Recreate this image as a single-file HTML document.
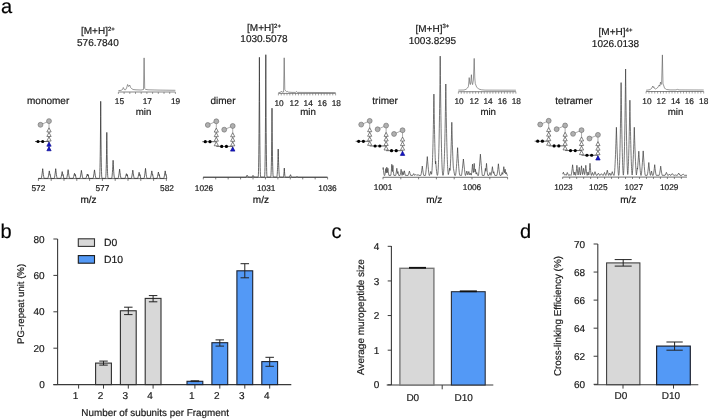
<!DOCTYPE html>
<html><head><meta charset="utf-8"><style>
html,body{margin:0;padding:0;background:#fff;width:709px;height:419px;overflow:hidden}
svg{display:block;filter:blur(0.3px)}
text{stroke:#1a1a1a;stroke-width:0.2px;text-rendering:geometricPrecision}
</style></head><body>
<svg width="709" height="419" viewBox="0 0 709 419" font-family='"Liberation Sans", sans-serif'>
<rect width="709" height="419" fill="#fff"/>
<text x="1.00" y="12.90" font-size="20" text-anchor="start" fill="#000" >a</text>
<text x="0.40" y="237.80" font-size="20" text-anchor="start" fill="#000" >b</text>
<text x="331.40" y="238.20" font-size="20" text-anchor="start" fill="#000" >c</text>
<text x="520.00" y="237.80" font-size="20" text-anchor="start" fill="#000" >d</text>
<text x="97.90" y="34.10" font-size="10" text-anchor="middle" fill="#1a1a1a">[M+H]<tspan font-size="6" dy="-3.4">2+</tspan></text>
<text x="97.90" y="45.80" font-size="10" text-anchor="middle" fill="#1a1a1a" >576.7840</text>
<text x="27.00" y="104.00" font-size="10" text-anchor="start" fill="#1a1a1a" >monomer</text>
<line x1="118.40" y1="92.00" x2="175.40" y2="92.00" stroke="#555" stroke-width="0.7"/>
<line x1="118.40" y1="92.00" x2="118.40" y2="94.00" stroke="#555" stroke-width="0.55"/>
<line x1="124.10" y1="92.00" x2="124.10" y2="94.00" stroke="#555" stroke-width="0.55"/>
<line x1="129.80" y1="92.00" x2="129.80" y2="94.00" stroke="#555" stroke-width="0.55"/>
<line x1="135.50" y1="92.00" x2="135.50" y2="94.00" stroke="#555" stroke-width="0.55"/>
<line x1="141.20" y1="92.00" x2="141.20" y2="94.00" stroke="#555" stroke-width="0.55"/>
<line x1="146.90" y1="92.00" x2="146.90" y2="94.00" stroke="#555" stroke-width="0.55"/>
<line x1="152.60" y1="92.00" x2="152.60" y2="94.00" stroke="#555" stroke-width="0.55"/>
<line x1="158.30" y1="92.00" x2="158.30" y2="94.00" stroke="#555" stroke-width="0.55"/>
<line x1="164.00" y1="92.00" x2="164.00" y2="94.00" stroke="#555" stroke-width="0.55"/>
<line x1="169.70" y1="92.00" x2="169.70" y2="94.00" stroke="#555" stroke-width="0.55"/>
<line x1="175.40" y1="92.00" x2="175.40" y2="94.00" stroke="#555" stroke-width="0.55"/>
<polyline points="118.40,90.60 121.00,90.40 122.50,89.50 123.30,87.50 124.30,89.60 125.50,89.80 126.60,88.00 127.60,84.50 128.60,86.50 129.70,85.00 130.60,87.50 131.50,88.50 133.00,89.50 136.00,89.80 141.00,90.00 143.50,89.50 144.10,57.90 144.70,88.50 145.50,89.30 148.00,89.80 160.00,90.10 175.40,90.30" fill="none" stroke="#555" stroke-width="0.6" stroke-linejoin="round"/>
<text x="119.40" y="103.50" font-size="8.3" text-anchor="middle" fill="#1a1a1a" >15</text>
<text x="147.30" y="103.50" font-size="8.3" text-anchor="middle" fill="#1a1a1a" >17</text>
<text x="175.60" y="103.50" font-size="8.3" text-anchor="middle" fill="#1a1a1a" >19</text>
<text x="143.50" y="114.50" font-size="9.7" text-anchor="middle" fill="#1a1a1a" >min</text>
<line x1="38.20" y1="178.60" x2="167.00" y2="178.60" stroke="#4a4a4a" stroke-width="0.8"/>
<line x1="38.40" y1="178.60" x2="38.40" y2="180.90" stroke="#4a4a4a" stroke-width="0.7"/>
<line x1="51.20" y1="178.60" x2="51.20" y2="180.90" stroke="#4a4a4a" stroke-width="0.7"/>
<line x1="64.00" y1="178.60" x2="64.00" y2="180.90" stroke="#4a4a4a" stroke-width="0.7"/>
<line x1="76.80" y1="178.60" x2="76.80" y2="180.90" stroke="#4a4a4a" stroke-width="0.7"/>
<line x1="89.60" y1="178.60" x2="89.60" y2="180.90" stroke="#4a4a4a" stroke-width="0.7"/>
<line x1="102.40" y1="178.60" x2="102.40" y2="180.90" stroke="#4a4a4a" stroke-width="0.7"/>
<line x1="115.20" y1="178.60" x2="115.20" y2="180.90" stroke="#4a4a4a" stroke-width="0.7"/>
<line x1="128.00" y1="178.60" x2="128.00" y2="180.90" stroke="#4a4a4a" stroke-width="0.7"/>
<line x1="140.80" y1="178.60" x2="140.80" y2="180.90" stroke="#4a4a4a" stroke-width="0.7"/>
<line x1="153.60" y1="178.60" x2="153.60" y2="180.90" stroke="#4a4a4a" stroke-width="0.7"/>
<line x1="166.40" y1="178.60" x2="166.40" y2="180.90" stroke="#4a4a4a" stroke-width="0.7"/>
<polyline points="38.30,178.40 41.20,178.40 41.30,178.31 41.50,177.55 41.80,175.87 42.10,173.78 42.50,170.51 42.70,168.70 43.10,172.20 43.40,174.52 43.70,176.49 43.90,177.55 44.10,178.31 47.80,178.40 47.90,178.31 48.20,177.22 48.60,175.22 49.10,172.22 49.30,170.90 49.80,174.07 50.00,175.22 50.10,175.14 50.20,174.60 50.90,178.40 54.20,178.40 54.30,178.31 54.50,177.55 54.80,175.87 55.10,173.78 55.50,170.51 55.70,168.70 56.10,172.20 56.40,174.52 56.70,176.49 56.90,177.55 57.10,178.31 60.70,178.40 60.90,178.02 61.30,176.42 61.80,173.89 62.20,171.60 62.70,174.43 62.90,175.46 63.00,175.14 63.10,174.60 63.80,178.40 66.60,178.40 66.70,178.31 66.90,177.59 67.20,176.04 67.60,173.48 68.00,170.50 68.10,169.70 68.50,172.77 68.90,175.45 69.20,177.12 69.40,177.99 69.50,178.31 73.00,178.40 73.20,178.07 73.70,176.46 74.40,173.72 74.50,173.30 75.10,175.72 75.20,175.69 75.40,174.60 76.10,178.40 79.90,178.40 80.00,178.31 80.30,177.17 80.70,175.05 81.10,172.51 81.40,170.40 81.90,173.82 82.30,176.17 82.60,177.61 82.80,178.31 85.80,178.40 86.10,177.84 86.80,175.72 87.30,174.00 87.90,176.05 88.20,174.60 88.90,178.40 93.00,178.40 93.10,178.31 93.30,177.59 93.60,176.08 94.00,173.58 94.40,170.68 94.50,169.90 94.90,172.88 95.30,175.50 95.60,177.13 95.80,177.99 95.90,178.31 99.30,178.40 99.40,178.31 99.50,178.00 99.60,177.32 99.70,176.10 99.80,174.19 99.90,171.45 100.00,167.73 100.10,162.87 100.20,156.72 100.30,149.12 100.40,139.94 100.50,129.01 100.60,116.18 100.70,101.30 100.80,116.18 100.90,129.01 101.00,139.94 101.10,149.12 101.20,156.72 101.30,162.87 101.40,167.73 101.50,171.45 101.60,174.19 101.70,176.10 101.80,177.32 101.90,178.00 102.00,178.31 105.40,178.40 105.60,178.09 105.70,177.59 105.80,176.74 105.90,175.47 106.00,173.69 106.10,171.33 106.20,168.31 106.30,164.56 106.40,160.01 106.50,154.58 106.60,148.22 106.70,140.85 106.80,132.40 106.90,140.85 107.00,148.22 107.10,154.58 107.20,160.01 107.30,164.56 107.40,168.31 107.50,171.33 107.60,173.69 107.70,175.47 107.80,176.74 107.90,177.59 108.00,178.09 108.20,178.40 111.60,178.40 111.70,178.35 111.80,178.04 112.00,176.84 112.20,175.00 112.40,172.59 112.60,169.67 112.80,166.26 113.00,162.40 113.10,160.30 113.30,164.39 113.50,168.02 113.70,171.19 113.90,173.86 114.10,175.99 114.30,177.53 114.40,178.04 114.50,178.35 118.10,178.40 118.20,178.31 118.40,177.57 118.70,175.96 119.10,173.24 119.50,170.06 119.60,169.20 120.00,172.48 120.40,175.33 120.70,177.08 120.90,177.99 121.00,178.31 124.90,178.40 125.10,178.08 125.70,176.25 126.40,173.70 127.00,175.91 127.10,175.69 127.30,174.60 128.00,178.40 131.30,178.40 131.40,178.31 131.70,177.16 132.10,174.98 132.50,172.37 132.80,170.20 133.30,173.72 133.70,176.14 134.00,177.61 134.20,178.31 137.60,178.40 137.80,178.04 138.20,176.57 138.80,173.83 139.10,172.30 139.70,175.26 139.80,175.69 140.00,174.60 140.70,178.40 144.00,178.40 144.10,178.31 144.30,177.55 144.60,175.83 144.90,173.67 145.30,170.28 145.50,168.40 145.90,172.04 146.20,174.43 146.50,176.46 146.70,177.55 146.90,178.31 150.30,178.40 150.40,178.31 150.70,177.22 151.10,175.22 151.60,172.22 151.80,170.90 152.30,174.07 152.50,175.22 152.60,175.14 152.70,174.60 153.40,178.40 156.90,178.40 157.10,178.03 157.50,176.51 158.00,174.13 158.40,172.00 159.00,175.13 159.10,175.60 159.30,174.60 160.00,178.40 163.70,178.40 163.80,178.31 164.10,177.22 164.50,175.22 165.00,172.22 165.20,170.90 165.70,174.07 165.90,175.22 166.00,175.14 166.10,174.60 166.80,178.40 167.00,178.40" fill="none" stroke="#333" stroke-width="0.75" stroke-linejoin="round"/>
<text x="38.40" y="191.30" font-size="8.3" text-anchor="middle" fill="#1a1a1a" >572</text>
<text x="102.40" y="191.30" font-size="8.3" text-anchor="middle" fill="#1a1a1a" >577</text>
<text x="167.00" y="191.30" font-size="8.3" text-anchor="middle" fill="#1a1a1a" >582</text>
<text x="88.50" y="202.90" font-size="10" text-anchor="middle" fill="#1a1a1a" >m/z</text>
<line x1="49.00" y1="121.10" x2="49.00" y2="148.10" stroke="#777" stroke-width="0.6"/>
<line x1="40.50" y1="124.80" x2="49.00" y2="121.10" stroke="#777" stroke-width="0.6"/>
<line x1="35.00" y1="141.50" x2="49.00" y2="141.50" stroke="#222" stroke-width="0.7"/>
<circle cx="49.00" cy="121.10" r="2.45" fill="#b0b0b0" stroke="#666666" stroke-width="0.6"/>
<circle cx="40.50" cy="124.80" r="2.45" fill="#b0b0b0" stroke="#666666" stroke-width="0.6"/>
<polygon points="49.00,127.86 51.15,131.94 46.85,131.94" fill="#fff" stroke="#505050" stroke-width="0.7"/>
<polygon points="49.00,132.41 51.15,136.49 46.85,136.49" fill="#fff" stroke="#505050" stroke-width="0.7"/>
<polygon points="49.00,136.96 51.15,141.04 46.85,141.04" fill="#fff" stroke="#505050" stroke-width="0.7"/>
<polygon points="49.00,142.11 51.15,146.19 46.85,146.19" fill="#1616c8" stroke="#0a0a90" stroke-width="0.7"/>
<polygon points="49.00,146.66 51.15,150.74 46.85,150.74" fill="#1616c8" stroke="#0a0a90" stroke-width="0.7"/>
<circle cx="38.00" cy="141.50" r="1.6" fill="#000"/>
<circle cx="42.70" cy="141.50" r="1.6" fill="#000"/>
<text x="264.00" y="31.10" font-size="10" text-anchor="middle" fill="#1a1a1a">[M+H]<tspan font-size="6" dy="-3.4">2+</tspan></text>
<text x="264.00" y="42.40" font-size="10" text-anchor="middle" fill="#1a1a1a" >1030.5078</text>
<text x="210.50" y="104.30" font-size="10" text-anchor="start" fill="#1a1a1a" >dimer</text>
<line x1="278.40" y1="93.40" x2="335.60" y2="93.40" stroke="#555" stroke-width="0.7"/>
<line x1="278.40" y1="93.40" x2="278.40" y2="95.40" stroke="#555" stroke-width="0.55"/>
<line x1="281.26" y1="93.40" x2="281.26" y2="95.40" stroke="#555" stroke-width="0.55"/>
<line x1="284.12" y1="93.40" x2="284.12" y2="95.40" stroke="#555" stroke-width="0.55"/>
<line x1="286.98" y1="93.40" x2="286.98" y2="95.40" stroke="#555" stroke-width="0.55"/>
<line x1="289.84" y1="93.40" x2="289.84" y2="95.40" stroke="#555" stroke-width="0.55"/>
<line x1="292.70" y1="93.40" x2="292.70" y2="95.40" stroke="#555" stroke-width="0.55"/>
<line x1="295.56" y1="93.40" x2="295.56" y2="95.40" stroke="#555" stroke-width="0.55"/>
<line x1="298.42" y1="93.40" x2="298.42" y2="95.40" stroke="#555" stroke-width="0.55"/>
<line x1="301.28" y1="93.40" x2="301.28" y2="95.40" stroke="#555" stroke-width="0.55"/>
<line x1="304.14" y1="93.40" x2="304.14" y2="95.40" stroke="#555" stroke-width="0.55"/>
<line x1="307.00" y1="93.40" x2="307.00" y2="95.40" stroke="#555" stroke-width="0.55"/>
<line x1="309.86" y1="93.40" x2="309.86" y2="95.40" stroke="#555" stroke-width="0.55"/>
<line x1="312.72" y1="93.40" x2="312.72" y2="95.40" stroke="#555" stroke-width="0.55"/>
<line x1="315.58" y1="93.40" x2="315.58" y2="95.40" stroke="#555" stroke-width="0.55"/>
<line x1="318.44" y1="93.40" x2="318.44" y2="95.40" stroke="#555" stroke-width="0.55"/>
<line x1="321.30" y1="93.40" x2="321.30" y2="95.40" stroke="#555" stroke-width="0.55"/>
<line x1="324.16" y1="93.40" x2="324.16" y2="95.40" stroke="#555" stroke-width="0.55"/>
<line x1="327.02" y1="93.40" x2="327.02" y2="95.40" stroke="#555" stroke-width="0.55"/>
<line x1="329.88" y1="93.40" x2="329.88" y2="95.40" stroke="#555" stroke-width="0.55"/>
<line x1="332.74" y1="93.40" x2="332.74" y2="95.40" stroke="#555" stroke-width="0.55"/>
<line x1="335.60" y1="93.40" x2="335.60" y2="95.40" stroke="#555" stroke-width="0.55"/>
<polyline points="278.40,92.60 280.50,92.30 281.40,91.10 282.30,92.20 283.60,92.00 284.20,57.80 284.80,89.50 285.60,90.80 286.50,91.60 287.30,91.40 288.50,92.10 292.00,92.40 295.50,92.40 296.40,91.50 297.30,92.40 335.60,92.60" fill="none" stroke="#555" stroke-width="0.6" stroke-linejoin="round"/>
<text x="279.10" y="105.50" font-size="8.3" text-anchor="middle" fill="#1a1a1a" >10</text>
<text x="294.20" y="105.50" font-size="8.3" text-anchor="middle" fill="#1a1a1a" >12</text>
<text x="308.20" y="105.50" font-size="8.3" text-anchor="middle" fill="#1a1a1a" >14</text>
<text x="322.20" y="105.50" font-size="8.3" text-anchor="middle" fill="#1a1a1a" >16</text>
<text x="336.30" y="105.50" font-size="8.3" text-anchor="middle" fill="#1a1a1a" >18</text>
<text x="308.00" y="114.60" font-size="9.7" text-anchor="middle" fill="#1a1a1a" >min</text>
<line x1="203.20" y1="177.40" x2="327.50" y2="177.40" stroke="#4a4a4a" stroke-width="0.8"/>
<line x1="203.30" y1="177.40" x2="203.30" y2="179.40" stroke="#4a4a4a" stroke-width="0.7"/>
<line x1="215.73" y1="177.40" x2="215.73" y2="179.40" stroke="#4a4a4a" stroke-width="0.7"/>
<line x1="228.16" y1="177.40" x2="228.16" y2="179.40" stroke="#4a4a4a" stroke-width="0.7"/>
<line x1="240.59" y1="177.40" x2="240.59" y2="179.40" stroke="#4a4a4a" stroke-width="0.7"/>
<line x1="253.02" y1="177.40" x2="253.02" y2="179.40" stroke="#4a4a4a" stroke-width="0.7"/>
<line x1="265.45" y1="177.40" x2="265.45" y2="179.40" stroke="#4a4a4a" stroke-width="0.7"/>
<line x1="277.88" y1="177.40" x2="277.88" y2="179.40" stroke="#4a4a4a" stroke-width="0.7"/>
<line x1="290.31" y1="177.40" x2="290.31" y2="179.40" stroke="#4a4a4a" stroke-width="0.7"/>
<line x1="302.74" y1="177.40" x2="302.74" y2="179.40" stroke="#4a4a4a" stroke-width="0.7"/>
<line x1="315.17" y1="177.40" x2="315.17" y2="179.40" stroke="#4a4a4a" stroke-width="0.7"/>
<line x1="327.60" y1="177.40" x2="327.60" y2="179.40" stroke="#4a4a4a" stroke-width="0.7"/>
<polyline points="203.20,177.10 246.10,177.10 247.10,175.20 248.00,176.94 252.00,177.10 253.00,175.40 253.90,176.95 258.00,177.10 258.10,177.06 258.20,176.75 258.30,175.92 258.40,174.31 258.50,171.64 258.60,167.67 258.70,162.12 258.80,154.75 258.90,145.27 259.00,133.44 259.10,118.99 259.20,101.66 259.30,81.18 259.40,57.30 259.50,81.18 259.60,101.66 259.70,118.99 259.80,133.44 259.90,145.27 260.00,154.75 260.10,162.13 260.20,167.67 260.30,171.64 260.40,174.31 260.50,175.92 260.60,176.75 260.70,177.06 264.40,177.10 264.50,177.06 264.60,176.74 264.70,175.90 264.80,174.25 264.90,171.52 265.00,167.47 265.10,161.80 265.20,154.26 265.30,144.58 265.40,132.49 265.50,117.73 265.60,100.02 265.70,79.10 265.80,54.70 265.90,79.10 266.00,100.02 266.10,117.73 266.20,132.49 266.30,144.58 266.40,154.26 266.50,161.80 266.60,167.47 266.70,171.52 266.80,174.25 266.90,175.90 267.00,176.74 267.10,177.06 270.50,177.10 270.70,176.94 270.80,176.55 270.90,175.79 271.00,174.55 271.10,172.69 271.20,170.10 271.30,166.65 271.40,162.22 271.50,156.69 271.60,149.93 271.70,141.82 271.80,132.25 271.90,121.08 272.00,108.20 272.10,121.08 272.20,132.25 272.30,141.82 272.40,149.93 272.50,156.69 272.60,162.22 272.70,166.65 272.80,170.10 272.90,172.69 273.00,174.55 273.10,175.79 273.20,176.55 273.30,176.94 276.70,177.10 276.80,177.01 276.90,176.71 277.00,176.18 277.10,175.40 277.20,174.37 277.30,173.09 277.40,171.54 277.50,169.71 277.60,167.62 277.70,165.25 277.80,162.59 277.90,159.65 278.00,156.43 278.10,152.91 278.20,149.10 278.30,152.91 278.40,156.43 278.50,159.65 278.60,162.59 278.70,165.25 278.80,167.62 278.90,169.71 279.00,171.54 279.10,173.09 279.20,174.37 279.30,175.40 279.40,176.18 279.50,176.71 279.60,177.01 283.30,177.10 283.50,176.74 283.70,175.66 283.90,173.86 284.10,171.34 284.30,168.10 284.50,171.34 284.70,173.86 284.90,175.66 285.10,176.74 285.30,177.10 289.50,177.10 290.40,174.96 290.50,174.70 291.30,176.69 291.50,177.10 296.00,177.10 297.00,176.50 298.00,177.10 327.50,177.10" fill="none" stroke="#333" stroke-width="0.75" stroke-linejoin="round"/>
<text x="204.00" y="190.60" font-size="8.3" text-anchor="middle" fill="#1a1a1a" >1026</text>
<text x="266.20" y="190.60" font-size="8.3" text-anchor="middle" fill="#1a1a1a" >1031</text>
<text x="327.50" y="190.60" font-size="8.3" text-anchor="middle" fill="#1a1a1a" >1036</text>
<text x="260.90" y="202.50" font-size="10" text-anchor="middle" fill="#1a1a1a" >m/z</text>
<line x1="216.30" y1="121.30" x2="216.30" y2="143.75" stroke="#777" stroke-width="0.6"/>
<line x1="207.80" y1="125.00" x2="216.30" y2="121.30" stroke="#777" stroke-width="0.6"/>
<line x1="202.30" y1="141.70" x2="216.30" y2="141.70" stroke="#222" stroke-width="0.7"/>
<line x1="232.72" y1="125.98" x2="232.72" y2="148.43" stroke="#777" stroke-width="0.6"/>
<line x1="224.22" y1="129.68" x2="232.72" y2="125.98" stroke="#777" stroke-width="0.6"/>
<line x1="216.30" y1="146.38" x2="232.72" y2="146.38" stroke="#222" stroke-width="0.7"/>
<circle cx="216.30" cy="121.30" r="2.45" fill="#b0b0b0" stroke="#666666" stroke-width="0.6"/>
<circle cx="207.80" cy="125.00" r="2.45" fill="#b0b0b0" stroke="#666666" stroke-width="0.6"/>
<polygon points="216.30,128.10 218.40,132.09 214.20,132.09" fill="#fff" stroke="#505050" stroke-width="0.7"/>
<polygon points="216.30,132.66 218.40,136.65 214.20,136.65" fill="#fff" stroke="#505050" stroke-width="0.7"/>
<polygon points="216.30,137.20 218.40,141.19 214.20,141.19" fill="#fff" stroke="#505050" stroke-width="0.7"/>
<polygon points="216.30,141.75 218.40,145.75 214.20,145.75" fill="#fff" stroke="#505050" stroke-width="0.7"/>
<circle cx="205.30" cy="141.70" r="1.6" fill="#000"/>
<circle cx="210.00" cy="141.70" r="1.6" fill="#000"/>
<circle cx="232.72" cy="125.98" r="2.45" fill="#b0b0b0" stroke="#666666" stroke-width="0.6"/>
<circle cx="224.22" cy="129.68" r="2.45" fill="#b0b0b0" stroke="#666666" stroke-width="0.6"/>
<polygon points="232.72,132.78 234.82,136.78 230.62,136.78" fill="#fff" stroke="#505050" stroke-width="0.7"/>
<polygon points="232.72,137.34 234.82,141.33 230.62,141.33" fill="#fff" stroke="#505050" stroke-width="0.7"/>
<polygon points="232.72,141.88 234.82,145.88 230.62,145.88" fill="#fff" stroke="#505050" stroke-width="0.7"/>
<polygon points="232.72,146.94 234.92,151.12 230.52,151.12" fill="#1616c8" stroke="#0a0a90" stroke-width="0.7"/>
<circle cx="221.72" cy="146.38" r="1.6" fill="#000"/>
<circle cx="226.42" cy="146.38" r="1.6" fill="#000"/>
<text x="432.40" y="31.50" font-size="10" text-anchor="middle" fill="#1a1a1a">[M+H]<tspan font-size="6" dy="-3.4">3+</tspan></text>
<text x="432.40" y="43.80" font-size="10" text-anchor="middle" fill="#1a1a1a" >1003.8295</text>
<text x="372.30" y="103.70" font-size="10" text-anchor="start" fill="#1a1a1a" >trimer</text>
<line x1="458.40" y1="91.70" x2="515.90" y2="91.70" stroke="#555" stroke-width="0.7"/>
<line x1="458.40" y1="91.70" x2="458.40" y2="93.70" stroke="#555" stroke-width="0.55"/>
<line x1="461.27" y1="91.70" x2="461.27" y2="93.70" stroke="#555" stroke-width="0.55"/>
<line x1="464.15" y1="91.70" x2="464.15" y2="93.70" stroke="#555" stroke-width="0.55"/>
<line x1="467.02" y1="91.70" x2="467.02" y2="93.70" stroke="#555" stroke-width="0.55"/>
<line x1="469.90" y1="91.70" x2="469.90" y2="93.70" stroke="#555" stroke-width="0.55"/>
<line x1="472.77" y1="91.70" x2="472.77" y2="93.70" stroke="#555" stroke-width="0.55"/>
<line x1="475.65" y1="91.70" x2="475.65" y2="93.70" stroke="#555" stroke-width="0.55"/>
<line x1="478.52" y1="91.70" x2="478.52" y2="93.70" stroke="#555" stroke-width="0.55"/>
<line x1="481.40" y1="91.70" x2="481.40" y2="93.70" stroke="#555" stroke-width="0.55"/>
<line x1="484.27" y1="91.70" x2="484.27" y2="93.70" stroke="#555" stroke-width="0.55"/>
<line x1="487.15" y1="91.70" x2="487.15" y2="93.70" stroke="#555" stroke-width="0.55"/>
<line x1="490.02" y1="91.70" x2="490.02" y2="93.70" stroke="#555" stroke-width="0.55"/>
<line x1="492.90" y1="91.70" x2="492.90" y2="93.70" stroke="#555" stroke-width="0.55"/>
<line x1="495.77" y1="91.70" x2="495.77" y2="93.70" stroke="#555" stroke-width="0.55"/>
<line x1="498.65" y1="91.70" x2="498.65" y2="93.70" stroke="#555" stroke-width="0.55"/>
<line x1="501.52" y1="91.70" x2="501.52" y2="93.70" stroke="#555" stroke-width="0.55"/>
<line x1="504.40" y1="91.70" x2="504.40" y2="93.70" stroke="#555" stroke-width="0.55"/>
<line x1="507.27" y1="91.70" x2="507.27" y2="93.70" stroke="#555" stroke-width="0.55"/>
<line x1="510.15" y1="91.70" x2="510.15" y2="93.70" stroke="#555" stroke-width="0.55"/>
<line x1="513.02" y1="91.70" x2="513.02" y2="93.70" stroke="#555" stroke-width="0.55"/>
<line x1="515.90" y1="91.70" x2="515.90" y2="93.70" stroke="#555" stroke-width="0.55"/>
<polyline points="458.40,90.10 464.00,90.00 466.00,89.30 467.50,88.00 468.40,86.50 469.20,77.60 469.80,83.50 470.30,84.60 470.80,82.00 471.40,74.70 472.00,83.00 472.60,84.60 473.40,80.00 474.20,58.40 474.80,78.00 475.30,83.60 476.60,87.00 478.60,89.00 481.60,89.80 485.00,90.10 515.90,90.20" fill="none" stroke="#555" stroke-width="0.6" stroke-linejoin="round"/>
<text x="459.10" y="103.50" font-size="8.3" text-anchor="middle" fill="#1a1a1a" >10</text>
<text x="474.20" y="103.50" font-size="8.3" text-anchor="middle" fill="#1a1a1a" >12</text>
<text x="488.10" y="103.50" font-size="8.3" text-anchor="middle" fill="#1a1a1a" >14</text>
<text x="502.30" y="103.50" font-size="8.3" text-anchor="middle" fill="#1a1a1a" >16</text>
<text x="516.30" y="103.50" font-size="8.3" text-anchor="middle" fill="#1a1a1a" >18</text>
<text x="488.20" y="114.60" font-size="9.7" text-anchor="middle" fill="#1a1a1a" >min</text>
<line x1="382.90" y1="177.30" x2="507.70" y2="177.30" stroke="#4a4a4a" stroke-width="0.8"/>
<line x1="383.00" y1="177.30" x2="383.00" y2="179.30" stroke="#4a4a4a" stroke-width="0.7"/>
<line x1="400.80" y1="177.30" x2="400.80" y2="179.30" stroke="#4a4a4a" stroke-width="0.7"/>
<line x1="418.60" y1="177.30" x2="418.60" y2="179.30" stroke="#4a4a4a" stroke-width="0.7"/>
<line x1="436.40" y1="177.30" x2="436.40" y2="179.30" stroke="#4a4a4a" stroke-width="0.7"/>
<line x1="454.20" y1="177.30" x2="454.20" y2="179.30" stroke="#4a4a4a" stroke-width="0.7"/>
<line x1="472.00" y1="177.30" x2="472.00" y2="179.30" stroke="#4a4a4a" stroke-width="0.7"/>
<line x1="489.80" y1="177.30" x2="489.80" y2="179.30" stroke="#4a4a4a" stroke-width="0.7"/>
<line x1="507.60" y1="177.30" x2="507.60" y2="179.30" stroke="#4a4a4a" stroke-width="0.7"/>
<polyline points="383.00,169.51 383.20,167.50 383.50,170.46 383.80,173.03 384.00,174.45 384.20,175.40 384.80,175.40 385.00,174.40 385.30,172.18 385.60,169.55 385.70,168.60 386.00,171.34 386.20,172.98 386.30,172.61 386.60,169.53 386.80,167.20 387.10,170.61 387.30,172.61 387.40,172.48 387.80,169.20 387.90,168.30 388.30,171.72 388.60,173.89 388.80,175.03 388.90,175.40 390.80,175.40 390.90,175.00 391.10,173.45 391.30,171.32 391.50,168.77 391.70,165.87 391.80,164.30 392.00,167.36 392.20,170.09 392.30,171.32 392.40,171.61 392.60,169.33 392.90,165.40 393.20,169.33 393.40,171.61 393.60,173.55 393.80,175.00 393.90,175.40 395.70,175.40 395.90,174.60 396.20,172.82 396.60,169.91 396.80,168.30 397.20,171.43 397.50,173.46 397.60,173.13 397.90,171.50 398.40,174.14 398.70,175.40 400.10,175.40 400.30,174.58 400.60,172.82 401.00,170.05 401.10,169.30 401.50,172.17 401.80,174.04 402.00,175.05 402.10,175.40 402.40,174.14 402.90,171.50 403.40,174.14 403.50,174.61 403.60,174.72 404.10,172.38 404.40,170.80 404.90,173.38 405.30,175.10 405.40,175.40 408.10,175.40 408.50,174.32 409.20,171.86 409.40,171.10 410.10,173.66 410.60,175.19 410.70,175.40 412.70,175.40 413.70,173.60 414.60,175.25 414.80,175.40 415.80,174.40 416.80,175.40 418.00,174.60 419.00,175.40 420.80,175.40 421.00,174.81 421.30,173.34 421.70,170.79 422.10,167.76 422.30,166.10 422.70,169.32 423.10,172.13 423.40,173.88 423.60,174.81 423.80,175.40 425.40,175.40 425.60,174.39 425.90,172.09 426.20,169.29 426.60,165.06 427.00,160.36 427.30,156.60 427.70,161.57 428.10,166.16 428.40,169.29 428.70,172.09 428.90,173.69 429.10,174.99 429.20,175.40 429.60,175.40 430.00,174.28 430.80,171.40 431.50,173.95 431.60,174.28 431.70,173.72 431.80,172.84 431.90,171.76 432.00,170.44 432.10,168.90 432.20,167.12 432.30,165.09 432.40,162.81 432.50,160.26 432.60,157.45 432.70,154.36 432.80,151.00 432.90,147.35 433.00,143.41 433.10,139.17 433.20,134.63 433.30,129.79 433.40,124.64 433.50,119.18 433.60,113.39 433.70,107.29 433.80,100.86 433.90,94.10 434.00,100.86 434.10,107.29 434.20,113.39 434.30,119.18 434.40,124.64 434.50,129.79 434.60,134.63 434.70,139.17 434.80,143.41 434.90,147.35 435.00,151.00 435.10,154.36 435.20,157.45 435.30,160.26 435.40,162.81 435.50,163.88 435.70,161.20 436.00,165.15 436.30,168.60 436.60,171.52 436.80,173.11 437.00,174.37 437.20,175.22 437.30,175.40 437.50,175.25 437.70,174.56 437.80,173.93 437.90,173.08 438.00,171.99 438.10,170.63 438.20,169.00 438.30,167.07 438.40,164.83 438.50,162.26 438.60,159.35 438.70,156.08 438.80,152.45 438.90,148.43 439.00,144.01 439.10,139.19 439.20,133.95 439.30,128.28 439.40,122.17 439.50,115.60 439.60,108.57 439.70,101.07 439.80,93.08 439.90,84.60 440.00,75.62 440.10,66.12 440.20,56.10 440.30,66.12 440.40,75.62 440.50,84.60 440.60,93.08 440.70,101.07 440.80,108.57 440.90,115.60 441.00,122.17 441.10,128.28 441.20,133.95 441.30,139.19 441.40,144.01 441.50,148.43 441.60,152.45 441.70,156.08 441.80,159.35 441.90,162.26 442.00,164.83 442.10,167.07 442.20,169.00 442.30,170.63 442.40,171.99 442.50,173.08 442.60,173.93 442.80,174.99 443.00,175.37 443.20,175.01 443.40,174.06 443.60,172.38 443.70,171.24 443.80,169.89 443.90,168.30 444.00,166.48 444.10,164.40 444.20,162.08 444.30,159.48 444.40,156.62 444.50,153.47 444.60,150.03 444.70,146.30 444.80,142.27 444.90,137.93 445.00,133.28 445.10,128.30 445.20,123.00 445.30,117.36 445.40,111.39 445.50,105.07 445.60,98.40 445.70,91.38 445.80,84.00 445.90,91.38 446.00,98.40 446.10,105.07 446.20,111.39 446.30,117.36 446.40,123.00 446.50,128.30 446.60,133.28 446.70,137.93 446.80,142.27 446.90,146.30 447.00,150.03 447.10,153.47 447.20,156.62 447.30,159.48 447.40,162.08 447.50,164.40 447.60,166.48 447.70,168.30 447.80,169.89 447.90,171.24 448.00,172.38 448.20,174.06 448.30,174.61 448.40,174.49 448.80,172.67 449.30,169.93 449.60,168.10 450.00,170.51 450.10,169.96 450.30,166.90 450.50,163.17 450.70,158.75 450.90,153.65 451.10,147.87 451.30,141.42 451.50,134.28 451.70,126.46 451.80,122.30 452.00,130.46 452.20,137.93 452.40,144.73 452.60,150.85 452.80,156.28 453.00,161.04 453.20,165.12 453.40,168.52 453.50,168.60 454.00,171.73 454.40,173.88 454.70,175.14 454.80,175.40 455.40,175.40 455.50,175.20 455.70,174.26 455.90,172.81 456.10,170.97 456.30,168.77 456.50,166.26 456.70,163.46 457.00,158.76 457.30,153.49 457.60,147.70 457.90,153.49 458.20,158.76 458.50,163.46 458.70,166.26 458.90,168.77 459.10,170.97 459.30,172.81 459.50,174.26 459.70,175.20 461.50,175.40 461.70,174.30 462.00,172.10 462.40,168.71 462.90,164.03 463.40,159.00 464.00,165.00 464.50,169.59 464.90,172.87 465.20,174.92 465.30,175.40 465.60,175.40 466.00,174.19 466.70,171.43 466.80,171.00 467.50,173.83 467.80,174.87 468.40,172.96 468.80,171.50 469.50,173.98 469.80,174.91 470.50,173.40 471.20,175.01 471.30,175.13 471.50,174.06 471.70,172.59 472.00,169.85 472.30,166.61 472.50,164.20 472.80,167.74 473.10,170.83 473.30,172.59 473.40,172.48 473.60,170.60 473.90,167.26 474.20,163.40 474.50,167.26 474.80,170.60 474.90,171.58 475.00,172.12 475.40,169.20 475.80,172.12 476.10,174.02 476.20,174.06 476.70,172.50 477.40,174.64 477.70,175.40 478.50,175.40 478.70,173.98 479.00,171.13 479.40,166.75 479.80,161.95 480.30,155.53 480.40,154.20 480.90,160.70 481.30,165.59 481.70,170.08 482.00,173.09 482.20,174.78 482.30,175.40 484.20,175.40 484.40,174.69 484.70,173.12 485.10,170.56 485.40,168.40 485.80,171.23 485.90,170.60 486.20,167.26 486.50,163.40 486.80,167.26 487.10,170.60 487.30,172.48 487.50,174.03 487.70,175.13 487.80,175.40 489.00,175.40 489.60,173.76 490.00,172.50 490.70,174.64 491.00,175.40 491.20,174.77 491.50,173.23 491.90,170.60 492.30,167.53 492.40,166.70 492.80,169.87 493.20,172.62 493.30,173.23 493.40,173.34 493.80,171.70 494.40,174.11 494.70,175.14 494.80,175.40 496.80,175.40 497.00,174.85 497.20,173.88 497.50,171.94 497.80,169.57 498.10,166.84 498.40,163.80 498.70,166.84 499.00,169.57 499.30,171.94 499.60,173.88 499.80,174.85 500.00,175.40 501.10,175.40 501.70,173.76 502.10,172.50 502.70,174.36 502.80,174.19 503.10,172.33 503.50,169.29 503.80,166.70 504.20,170.10 504.50,172.33 504.60,172.79 505.00,169.96 505.10,169.20 505.50,172.12 505.80,174.02 506.30,172.50 507.00,174.64 507.30,175.40 507.70,175.40" fill="none" stroke="#3c3c3c" stroke-width="0.7" stroke-linejoin="round"/>
<text x="383.10" y="189.50" font-size="8.3" text-anchor="middle" fill="#1a1a1a" >1001</text>
<text x="472.00" y="189.50" font-size="8.3" text-anchor="middle" fill="#1a1a1a" >1006</text>
<text x="434.30" y="202.60" font-size="10" text-anchor="middle" fill="#1a1a1a" >m/z</text>
<line x1="369.70" y1="120.90" x2="369.70" y2="143.35" stroke="#777" stroke-width="0.6"/>
<line x1="361.20" y1="124.60" x2="369.70" y2="120.90" stroke="#777" stroke-width="0.6"/>
<line x1="355.70" y1="141.30" x2="369.70" y2="141.30" stroke="#222" stroke-width="0.7"/>
<line x1="386.12" y1="125.58" x2="386.12" y2="148.03" stroke="#777" stroke-width="0.6"/>
<line x1="377.62" y1="129.28" x2="386.12" y2="125.58" stroke="#777" stroke-width="0.6"/>
<line x1="369.70" y1="145.98" x2="386.12" y2="145.98" stroke="#222" stroke-width="0.7"/>
<line x1="402.54" y1="130.26" x2="402.54" y2="152.71" stroke="#777" stroke-width="0.6"/>
<line x1="394.04" y1="133.96" x2="402.54" y2="130.26" stroke="#777" stroke-width="0.6"/>
<line x1="386.12" y1="150.66" x2="402.54" y2="150.66" stroke="#222" stroke-width="0.7"/>
<circle cx="369.70" cy="120.90" r="2.45" fill="#b0b0b0" stroke="#666666" stroke-width="0.6"/>
<circle cx="361.20" cy="124.60" r="2.45" fill="#b0b0b0" stroke="#666666" stroke-width="0.6"/>
<polygon points="369.70,127.71 371.80,131.70 367.60,131.70" fill="#fff" stroke="#505050" stroke-width="0.7"/>
<polygon points="369.70,132.26 371.80,136.25 367.60,136.25" fill="#fff" stroke="#505050" stroke-width="0.7"/>
<polygon points="369.70,136.81 371.80,140.80 367.60,140.80" fill="#fff" stroke="#505050" stroke-width="0.7"/>
<polygon points="369.70,141.36 371.80,145.35 367.60,145.35" fill="#fff" stroke="#505050" stroke-width="0.7"/>
<circle cx="358.70" cy="141.30" r="1.6" fill="#000"/>
<circle cx="363.40" cy="141.30" r="1.6" fill="#000"/>
<circle cx="386.12" cy="125.58" r="2.45" fill="#b0b0b0" stroke="#666666" stroke-width="0.6"/>
<circle cx="377.62" cy="129.28" r="2.45" fill="#b0b0b0" stroke="#666666" stroke-width="0.6"/>
<polygon points="386.12,132.39 388.22,136.38 384.02,136.38" fill="#fff" stroke="#505050" stroke-width="0.7"/>
<polygon points="386.12,136.94 388.22,140.93 384.02,140.93" fill="#fff" stroke="#505050" stroke-width="0.7"/>
<polygon points="386.12,141.49 388.22,145.48 384.02,145.48" fill="#fff" stroke="#505050" stroke-width="0.7"/>
<polygon points="386.12,146.04 388.22,150.03 384.02,150.03" fill="#fff" stroke="#505050" stroke-width="0.7"/>
<circle cx="375.12" cy="145.98" r="1.6" fill="#000"/>
<circle cx="379.82" cy="145.98" r="1.6" fill="#000"/>
<circle cx="402.54" cy="130.26" r="2.45" fill="#b0b0b0" stroke="#666666" stroke-width="0.6"/>
<circle cx="394.04" cy="133.96" r="2.45" fill="#b0b0b0" stroke="#666666" stroke-width="0.6"/>
<polygon points="402.54,137.06 404.64,141.06 400.44,141.06" fill="#fff" stroke="#505050" stroke-width="0.7"/>
<polygon points="402.54,141.62 404.64,145.61 400.44,145.61" fill="#fff" stroke="#505050" stroke-width="0.7"/>
<polygon points="402.54,146.16 404.64,150.16 400.44,150.16" fill="#fff" stroke="#505050" stroke-width="0.7"/>
<polygon points="402.54,151.22 404.74,155.40 400.34,155.40" fill="#1616c8" stroke="#0a0a90" stroke-width="0.7"/>
<circle cx="391.54" cy="150.66" r="1.6" fill="#000"/>
<circle cx="396.24" cy="150.66" r="1.6" fill="#000"/>
<text x="615.50" y="35.10" font-size="10" text-anchor="middle" fill="#1a1a1a">[M+H]<tspan font-size="6" dy="-3.4">4+</tspan></text>
<text x="615.50" y="46.70" font-size="10" text-anchor="middle" fill="#1a1a1a" >1026.0138</text>
<text x="555.30" y="104.00" font-size="10" text-anchor="start" fill="#1a1a1a" >tetramer</text>
<line x1="646.10" y1="91.50" x2="703.70" y2="91.50" stroke="#555" stroke-width="0.7"/>
<line x1="646.10" y1="91.50" x2="646.10" y2="93.50" stroke="#555" stroke-width="0.55"/>
<line x1="648.98" y1="91.50" x2="648.98" y2="93.50" stroke="#555" stroke-width="0.55"/>
<line x1="651.86" y1="91.50" x2="651.86" y2="93.50" stroke="#555" stroke-width="0.55"/>
<line x1="654.74" y1="91.50" x2="654.74" y2="93.50" stroke="#555" stroke-width="0.55"/>
<line x1="657.62" y1="91.50" x2="657.62" y2="93.50" stroke="#555" stroke-width="0.55"/>
<line x1="660.50" y1="91.50" x2="660.50" y2="93.50" stroke="#555" stroke-width="0.55"/>
<line x1="663.38" y1="91.50" x2="663.38" y2="93.50" stroke="#555" stroke-width="0.55"/>
<line x1="666.26" y1="91.50" x2="666.26" y2="93.50" stroke="#555" stroke-width="0.55"/>
<line x1="669.14" y1="91.50" x2="669.14" y2="93.50" stroke="#555" stroke-width="0.55"/>
<line x1="672.02" y1="91.50" x2="672.02" y2="93.50" stroke="#555" stroke-width="0.55"/>
<line x1="674.90" y1="91.50" x2="674.90" y2="93.50" stroke="#555" stroke-width="0.55"/>
<line x1="677.78" y1="91.50" x2="677.78" y2="93.50" stroke="#555" stroke-width="0.55"/>
<line x1="680.66" y1="91.50" x2="680.66" y2="93.50" stroke="#555" stroke-width="0.55"/>
<line x1="683.54" y1="91.50" x2="683.54" y2="93.50" stroke="#555" stroke-width="0.55"/>
<line x1="686.42" y1="91.50" x2="686.42" y2="93.50" stroke="#555" stroke-width="0.55"/>
<line x1="689.30" y1="91.50" x2="689.30" y2="93.50" stroke="#555" stroke-width="0.55"/>
<line x1="692.18" y1="91.50" x2="692.18" y2="93.50" stroke="#555" stroke-width="0.55"/>
<line x1="695.06" y1="91.50" x2="695.06" y2="93.50" stroke="#555" stroke-width="0.55"/>
<line x1="697.94" y1="91.50" x2="697.94" y2="93.50" stroke="#555" stroke-width="0.55"/>
<line x1="700.82" y1="91.50" x2="700.82" y2="93.50" stroke="#555" stroke-width="0.55"/>
<line x1="703.70" y1="91.50" x2="703.70" y2="93.50" stroke="#555" stroke-width="0.55"/>
<polyline points="646.10,90.20 648.00,90.00 650.00,89.60 651.50,88.50 652.80,86.00 653.40,87.50 653.80,86.80 654.60,88.50 655.30,89.00 656.50,88.50 657.30,88.00 658.20,86.80 659.20,85.00 659.80,86.20 660.50,82.10 661.20,84.50 661.60,83.50 662.40,54.90 663.00,84.00 663.50,85.00 664.50,88.00 665.50,89.00 666.60,89.50 670.00,89.90 676.00,89.90 677.50,89.40 679.00,89.90 703.70,90.00" fill="none" stroke="#555" stroke-width="0.6" stroke-linejoin="round"/>
<text x="646.90" y="103.70" font-size="8.3" text-anchor="middle" fill="#1a1a1a" >10</text>
<text x="661.20" y="103.70" font-size="8.3" text-anchor="middle" fill="#1a1a1a" >12</text>
<text x="675.50" y="103.70" font-size="8.3" text-anchor="middle" fill="#1a1a1a" >14</text>
<text x="689.30" y="103.70" font-size="8.3" text-anchor="middle" fill="#1a1a1a" >16</text>
<text x="703.70" y="103.70" font-size="8.3" text-anchor="middle" fill="#1a1a1a" >18</text>
<text x="675.50" y="114.60" font-size="9.7" text-anchor="middle" fill="#1a1a1a" >min</text>
<line x1="562.70" y1="177.10" x2="687.00" y2="177.10" stroke="#4a4a4a" stroke-width="0.8"/>
<line x1="562.70" y1="177.10" x2="562.70" y2="178.90" stroke="#4a4a4a" stroke-width="0.7"/>
<line x1="569.68" y1="177.10" x2="569.68" y2="178.90" stroke="#4a4a4a" stroke-width="0.7"/>
<line x1="576.66" y1="177.10" x2="576.66" y2="178.90" stroke="#4a4a4a" stroke-width="0.7"/>
<line x1="583.64" y1="177.10" x2="583.64" y2="178.90" stroke="#4a4a4a" stroke-width="0.7"/>
<line x1="590.62" y1="177.10" x2="590.62" y2="178.90" stroke="#4a4a4a" stroke-width="0.7"/>
<line x1="597.60" y1="177.10" x2="597.60" y2="178.90" stroke="#4a4a4a" stroke-width="0.7"/>
<line x1="604.58" y1="177.10" x2="604.58" y2="178.90" stroke="#4a4a4a" stroke-width="0.7"/>
<line x1="611.56" y1="177.10" x2="611.56" y2="178.90" stroke="#4a4a4a" stroke-width="0.7"/>
<line x1="618.54" y1="177.10" x2="618.54" y2="178.90" stroke="#4a4a4a" stroke-width="0.7"/>
<line x1="625.52" y1="177.10" x2="625.52" y2="178.90" stroke="#4a4a4a" stroke-width="0.7"/>
<line x1="632.50" y1="177.10" x2="632.50" y2="178.90" stroke="#4a4a4a" stroke-width="0.7"/>
<line x1="639.48" y1="177.10" x2="639.48" y2="178.90" stroke="#4a4a4a" stroke-width="0.7"/>
<line x1="646.46" y1="177.10" x2="646.46" y2="178.90" stroke="#4a4a4a" stroke-width="0.7"/>
<line x1="653.44" y1="177.10" x2="653.44" y2="178.90" stroke="#4a4a4a" stroke-width="0.7"/>
<line x1="660.42" y1="177.10" x2="660.42" y2="178.90" stroke="#4a4a4a" stroke-width="0.7"/>
<line x1="667.40" y1="177.10" x2="667.40" y2="178.90" stroke="#4a4a4a" stroke-width="0.7"/>
<line x1="674.38" y1="177.10" x2="674.38" y2="178.90" stroke="#4a4a4a" stroke-width="0.7"/>
<line x1="681.36" y1="177.10" x2="681.36" y2="178.90" stroke="#4a4a4a" stroke-width="0.7"/>
<polyline points="562.70,174.14 563.40,172.20 564.20,174.40 564.50,175.11 564.80,175.01 565.30,174.50 566.10,175.30 566.90,173.52 567.30,172.50 568.20,174.70 568.50,175.30 569.20,175.30 570.00,174.50 570.80,175.30 571.10,175.30 571.30,174.70 571.60,173.09 571.90,171.00 572.20,168.54 572.60,164.80 573.00,168.54 573.30,171.00 573.60,173.09 573.80,174.23 574.00,175.08 574.10,174.99 574.60,172.92 574.80,172.00 575.30,174.21 575.60,175.30 575.80,174.57 576.00,173.38 576.30,171.10 576.60,168.37 576.90,165.30 577.20,168.37 577.50,171.10 577.80,173.38 578.00,174.57 578.10,175.00 578.30,174.02 578.60,172.10 579.00,169.01 579.20,167.30 579.60,170.62 579.90,172.78 580.20,174.55 580.30,175.00 580.40,174.99 580.60,173.90 580.90,171.65 581.20,168.91 581.50,165.80 581.80,168.91 582.10,171.65 582.40,173.90 582.50,174.50 582.60,174.59 582.90,173.02 583.30,170.46 583.60,168.30 584.00,171.13 584.40,173.58 584.60,174.59 584.70,174.57 584.90,173.38 585.20,171.10 585.50,168.37 585.80,165.30 586.10,168.37 586.40,171.10 586.70,173.38 586.90,174.57 587.10,175.30 587.20,175.30 587.60,173.79 588.00,172.00 588.50,174.21 588.70,174.99 588.80,175.03 589.00,173.93 589.20,172.38 589.40,170.50 589.70,167.16 590.00,163.30 590.30,167.16 590.60,170.50 590.80,172.38 591.00,173.93 591.20,175.03 591.30,175.30 591.50,175.30 592.20,173.42 592.50,172.50 593.20,174.57 593.50,175.30 593.70,175.30 594.30,173.81 595.00,171.70 595.80,174.09 596.20,175.11 597.10,175.30 598.40,173.20 599.50,175.02 599.70,175.30 600.10,175.30 601.40,173.70 602.60,175.20 603.30,175.30 604.10,173.52 604.50,172.50 605.40,174.70 605.70,175.30 606.00,175.30 606.30,174.43 606.90,172.02 607.30,170.20 607.90,172.88 608.40,174.76 608.60,175.30 608.80,175.30 609.80,173.00 610.60,174.90 610.80,175.30 611.00,175.30 611.60,173.81 612.30,171.70 613.10,174.09 613.50,175.11 614.20,175.30 614.30,174.96 614.40,174.26 614.50,173.32 614.70,170.82 614.90,167.62 615.10,163.81 615.30,159.47 615.50,154.61 615.70,149.29 615.90,143.53 616.10,137.34 616.30,130.74 616.40,127.30 616.60,134.09 616.80,140.48 617.00,146.46 617.20,152.01 617.40,157.10 617.60,161.71 617.80,165.79 618.00,169.30 618.20,172.16 618.30,173.32 618.40,174.26 618.50,174.96 618.60,175.30 618.80,175.30 618.90,175.06 619.00,174.41 619.10,173.37 619.20,171.96 619.30,170.20 619.40,168.08 619.50,165.63 619.60,162.84 619.70,159.71 619.80,156.25 619.90,152.47 620.00,148.37 620.10,143.95 620.20,139.21 620.30,134.15 620.40,128.78 620.50,123.10 620.60,117.11 620.70,110.82 620.80,104.22 620.90,97.31 621.00,90.11 621.10,82.60 621.20,90.11 621.30,97.31 621.40,104.22 621.50,110.82 621.60,117.11 621.70,123.10 621.80,128.78 621.90,134.15 622.00,139.21 622.10,143.95 622.20,148.37 622.30,152.47 622.40,156.25 622.50,159.71 622.60,162.84 622.70,165.63 622.80,168.08 622.90,170.20 623.00,171.96 623.10,173.37 623.20,174.41 623.30,175.06 623.40,175.10 623.50,174.50 623.60,173.49 623.70,172.08 623.80,170.28 623.90,168.07 624.00,165.45 624.10,162.44 624.20,159.02 624.30,155.21 624.40,150.99 624.50,146.36 624.60,141.34 624.70,135.91 624.80,130.09 624.90,123.86 625.00,117.23 625.10,110.19 625.20,102.76 625.30,94.92 625.40,86.68 625.50,78.04 625.60,69.00 625.70,78.04 625.80,86.68 625.90,94.92 626.00,102.76 626.10,110.19 626.20,117.23 626.30,123.86 626.40,130.09 626.50,135.91 626.60,141.34 626.70,146.36 626.80,150.99 626.90,155.21 627.00,159.02 627.10,162.44 627.20,165.45 627.30,168.07 627.40,170.28 627.50,172.08 627.60,173.49 627.70,174.50 627.80,174.37 627.90,173.38 628.00,172.08 628.10,170.48 628.20,168.61 628.30,166.48 628.40,164.08 628.50,161.43 628.60,158.53 628.70,155.39 628.80,152.02 628.90,148.41 629.00,144.57 629.10,140.51 629.20,136.22 629.30,131.71 629.40,126.99 629.50,122.05 629.60,116.90 629.70,111.54 629.80,105.97 629.90,100.20 630.00,105.97 630.10,111.54 630.20,116.90 630.30,122.05 630.40,126.99 630.50,131.71 630.60,136.22 630.70,140.51 630.80,144.57 630.90,148.41 631.00,152.02 631.10,155.39 631.20,158.53 631.30,161.43 631.40,164.08 631.50,166.48 631.60,168.61 631.70,170.48 631.80,172.08 631.90,173.38 632.00,174.37 632.10,175.03 632.20,174.96 632.30,174.26 632.40,173.32 632.60,170.82 632.80,167.62 633.00,163.81 633.20,159.47 633.40,154.61 633.60,149.29 633.80,143.53 634.00,137.34 634.20,130.74 634.30,127.30 634.50,134.09 634.70,140.48 634.90,146.46 635.10,152.01 635.30,157.10 635.50,161.71 635.70,165.79 635.90,169.30 636.10,172.16 636.20,173.32 636.30,174.26 636.40,174.93 636.60,173.77 636.90,171.57 637.30,168.10 637.40,169.01 637.50,169.14 637.80,165.51 638.20,160.14 638.60,154.28 638.80,151.20 639.20,157.27 639.60,162.89 639.90,166.77 640.20,170.26 640.40,172.33 640.60,174.09 640.70,174.81 640.80,175.30 641.20,175.30 641.30,174.80 641.50,173.23 641.80,170.20 642.10,166.66 642.40,162.74 642.80,157.04 643.20,150.90 643.60,157.04 644.00,162.74 644.30,166.66 644.60,170.20 644.80,172.29 645.00,174.08 645.10,174.80 645.20,175.30 647.20,175.30 647.40,174.75 647.60,173.73 647.90,171.63 648.20,169.01 648.50,165.95 648.80,162.50 649.10,165.95 649.40,169.01 649.70,171.63 650.00,173.73 650.20,174.75 650.40,175.30 650.50,175.30 650.80,174.25 651.40,171.50 651.50,171.00 652.10,173.83 652.40,175.01 652.50,175.30 653.20,175.30 653.40,174.70 653.70,173.08 654.00,170.97 654.30,168.48 654.70,164.70 655.10,168.48 655.40,170.97 655.70,173.08 655.90,174.23 656.10,175.08 656.20,175.30 659.20,175.30 659.40,174.72 659.70,173.27 660.10,170.77 660.50,167.81 660.70,166.20 661.10,169.34 661.50,172.08 661.80,173.80 662.00,174.72 662.20,175.30 665.10,175.30 665.90,173.61 666.40,172.40 667.40,174.74 667.70,175.30 668.40,175.30 669.40,174.00 670.40,175.30 671.00,175.30 672.30,173.60 673.50,175.19 674.50,175.30 675.50,175.00 676.50,175.30 677.40,175.30 678.70,173.10 679.80,175.01 680.00,175.30 681.90,175.30 683.20,174.00 684.50,175.30 687.00,175.30" fill="none" stroke="#3c3c3c" stroke-width="0.7" stroke-linejoin="round"/>
<text x="563.40" y="189.50" font-size="8.3" text-anchor="middle" fill="#1a1a1a" >1023</text>
<text x="598.30" y="189.50" font-size="8.3" text-anchor="middle" fill="#1a1a1a" >1025</text>
<text x="633.80" y="189.50" font-size="8.3" text-anchor="middle" fill="#1a1a1a" >1027</text>
<text x="669.20" y="189.50" font-size="8.3" text-anchor="middle" fill="#1a1a1a" >1029</text>
<text x="628.20" y="202.60" font-size="10" text-anchor="middle" fill="#1a1a1a" >m/z</text>
<line x1="548.70" y1="120.80" x2="548.70" y2="143.25" stroke="#777" stroke-width="0.6"/>
<line x1="540.20" y1="124.50" x2="548.70" y2="120.80" stroke="#777" stroke-width="0.6"/>
<line x1="534.70" y1="141.20" x2="548.70" y2="141.20" stroke="#222" stroke-width="0.7"/>
<line x1="565.12" y1="125.48" x2="565.12" y2="147.93" stroke="#777" stroke-width="0.6"/>
<line x1="556.62" y1="129.18" x2="565.12" y2="125.48" stroke="#777" stroke-width="0.6"/>
<line x1="548.70" y1="145.88" x2="565.12" y2="145.88" stroke="#222" stroke-width="0.7"/>
<line x1="581.54" y1="130.16" x2="581.54" y2="152.61" stroke="#777" stroke-width="0.6"/>
<line x1="573.04" y1="133.86" x2="581.54" y2="130.16" stroke="#777" stroke-width="0.6"/>
<line x1="565.12" y1="150.56" x2="581.54" y2="150.56" stroke="#222" stroke-width="0.7"/>
<line x1="597.96" y1="134.84" x2="597.96" y2="157.29" stroke="#777" stroke-width="0.6"/>
<line x1="589.46" y1="138.54" x2="597.96" y2="134.84" stroke="#777" stroke-width="0.6"/>
<line x1="581.54" y1="155.24" x2="597.96" y2="155.24" stroke="#222" stroke-width="0.7"/>
<circle cx="548.70" cy="120.80" r="2.45" fill="#b0b0b0" stroke="#666666" stroke-width="0.6"/>
<circle cx="540.20" cy="124.50" r="2.45" fill="#b0b0b0" stroke="#666666" stroke-width="0.6"/>
<polygon points="548.70,127.60 550.80,131.59 546.60,131.59" fill="#fff" stroke="#505050" stroke-width="0.7"/>
<polygon points="548.70,132.16 550.80,136.15 546.60,136.15" fill="#fff" stroke="#505050" stroke-width="0.7"/>
<polygon points="548.70,136.70 550.80,140.69 546.60,140.69" fill="#fff" stroke="#505050" stroke-width="0.7"/>
<polygon points="548.70,141.25 550.80,145.25 546.60,145.25" fill="#fff" stroke="#505050" stroke-width="0.7"/>
<circle cx="537.70" cy="141.20" r="1.6" fill="#000"/>
<circle cx="542.40" cy="141.20" r="1.6" fill="#000"/>
<circle cx="565.12" cy="125.48" r="2.45" fill="#b0b0b0" stroke="#666666" stroke-width="0.6"/>
<circle cx="556.62" cy="129.18" r="2.45" fill="#b0b0b0" stroke="#666666" stroke-width="0.6"/>
<polygon points="565.12,132.28 567.22,136.28 563.02,136.28" fill="#fff" stroke="#505050" stroke-width="0.7"/>
<polygon points="565.12,136.84 567.22,140.83 563.02,140.83" fill="#fff" stroke="#505050" stroke-width="0.7"/>
<polygon points="565.12,141.38 567.22,145.38 563.02,145.38" fill="#fff" stroke="#505050" stroke-width="0.7"/>
<polygon points="565.12,145.94 567.22,149.93 563.02,149.93" fill="#fff" stroke="#505050" stroke-width="0.7"/>
<circle cx="554.12" cy="145.88" r="1.6" fill="#000"/>
<circle cx="558.82" cy="145.88" r="1.6" fill="#000"/>
<circle cx="581.54" cy="130.16" r="2.45" fill="#b0b0b0" stroke="#666666" stroke-width="0.6"/>
<circle cx="573.04" cy="133.86" r="2.45" fill="#b0b0b0" stroke="#666666" stroke-width="0.6"/>
<polygon points="581.54,136.97 583.64,140.96 579.44,140.96" fill="#fff" stroke="#505050" stroke-width="0.7"/>
<polygon points="581.54,141.52 583.64,145.51 579.44,145.51" fill="#fff" stroke="#505050" stroke-width="0.7"/>
<polygon points="581.54,146.06 583.64,150.06 579.44,150.06" fill="#fff" stroke="#505050" stroke-width="0.7"/>
<polygon points="581.54,150.62 583.64,154.61 579.44,154.61" fill="#fff" stroke="#505050" stroke-width="0.7"/>
<circle cx="570.54" cy="150.56" r="1.6" fill="#000"/>
<circle cx="575.24" cy="150.56" r="1.6" fill="#000"/>
<circle cx="597.96" cy="134.84" r="2.45" fill="#b0b0b0" stroke="#666666" stroke-width="0.6"/>
<circle cx="589.46" cy="138.54" r="2.45" fill="#b0b0b0" stroke="#666666" stroke-width="0.6"/>
<polygon points="597.96,141.65 600.06,145.64 595.86,145.64" fill="#fff" stroke="#505050" stroke-width="0.7"/>
<polygon points="597.96,146.20 600.06,150.19 595.86,150.19" fill="#fff" stroke="#505050" stroke-width="0.7"/>
<polygon points="597.96,150.75 600.06,154.74 595.86,154.74" fill="#fff" stroke="#505050" stroke-width="0.7"/>
<polygon points="597.96,155.80 600.16,159.98 595.76,159.98" fill="#1616c8" stroke="#0a0a90" stroke-width="0.7"/>
<circle cx="586.96" cy="155.24" r="1.6" fill="#000"/>
<circle cx="591.66" cy="155.24" r="1.6" fill="#000"/>
<line x1="57.60" y1="239.00" x2="57.60" y2="384.60" stroke="#3a3a3a" stroke-width="1.1"/>
<line x1="53.40" y1="384.60" x2="57.60" y2="384.60" stroke="#3a3a3a" stroke-width="1.0"/>
<text x="44.70" y="388.20" font-size="10" text-anchor="end" fill="#1a1a1a" >0</text>
<line x1="53.40" y1="348.20" x2="57.60" y2="348.20" stroke="#3a3a3a" stroke-width="1.0"/>
<text x="44.70" y="351.80" font-size="10" text-anchor="end" fill="#1a1a1a" >20</text>
<line x1="53.40" y1="311.80" x2="57.60" y2="311.80" stroke="#3a3a3a" stroke-width="1.0"/>
<text x="44.70" y="315.40" font-size="10" text-anchor="end" fill="#1a1a1a" >40</text>
<line x1="53.40" y1="275.40" x2="57.60" y2="275.40" stroke="#3a3a3a" stroke-width="1.0"/>
<text x="44.70" y="279.00" font-size="10" text-anchor="end" fill="#1a1a1a" >60</text>
<line x1="53.40" y1="239.00" x2="57.60" y2="239.00" stroke="#3a3a3a" stroke-width="1.0"/>
<text x="44.70" y="242.60" font-size="10" text-anchor="end" fill="#1a1a1a" >80</text>
<line x1="53.40" y1="384.60" x2="291.30" y2="384.60" stroke="#3a3a3a" stroke-width="1.1"/>
<line x1="78.60" y1="384.60" x2="78.60" y2="388.60" stroke="#3a3a3a" stroke-width="1.0"/>
<line x1="103.50" y1="384.60" x2="103.50" y2="388.60" stroke="#3a3a3a" stroke-width="1.0"/>
<rect x="95.60" y="363.10" width="15.80" height="21.50" fill="#d8d8d8" stroke="#2e2e2e" stroke-width="1.1"/>
<line x1="128.30" y1="384.60" x2="128.30" y2="388.60" stroke="#3a3a3a" stroke-width="1.0"/>
<rect x="120.40" y="310.75" width="15.80" height="73.85" fill="#d8d8d8" stroke="#2e2e2e" stroke-width="1.1"/>
<line x1="153.10" y1="384.60" x2="153.10" y2="388.60" stroke="#3a3a3a" stroke-width="1.0"/>
<rect x="145.20" y="298.40" width="15.80" height="86.20" fill="#d8d8d8" stroke="#2e2e2e" stroke-width="1.1"/>
<line x1="194.90" y1="384.60" x2="194.90" y2="388.60" stroke="#3a3a3a" stroke-width="1.0"/>
<rect x="187.00" y="381.30" width="15.80" height="3.30" fill="#5399f6" stroke="#1c2230" stroke-width="1.1"/>
<line x1="219.80" y1="384.60" x2="219.80" y2="388.60" stroke="#3a3a3a" stroke-width="1.0"/>
<rect x="211.90" y="342.70" width="15.80" height="41.90" fill="#5399f6" stroke="#1c2230" stroke-width="1.1"/>
<line x1="244.80" y1="384.60" x2="244.80" y2="388.60" stroke="#3a3a3a" stroke-width="1.0"/>
<rect x="236.90" y="270.80" width="15.80" height="113.80" fill="#5399f6" stroke="#1c2230" stroke-width="1.1"/>
<line x1="269.70" y1="384.60" x2="269.70" y2="388.60" stroke="#3a3a3a" stroke-width="1.0"/>
<rect x="261.80" y="361.60" width="15.80" height="23.00" fill="#5399f6" stroke="#1c2230" stroke-width="1.1"/>
<line x1="103.50" y1="361.10" x2="103.50" y2="365.10" stroke="#222" stroke-width="1.0"/>
<line x1="99.25" y1="361.10" x2="107.75" y2="361.10" stroke="#222" stroke-width="1.0"/>
<line x1="99.25" y1="365.10" x2="107.75" y2="365.10" stroke="#222" stroke-width="1.0"/>
<line x1="128.30" y1="307.20" x2="128.30" y2="314.60" stroke="#222" stroke-width="1.0"/>
<line x1="124.05" y1="307.20" x2="132.55" y2="307.20" stroke="#222" stroke-width="1.0"/>
<line x1="124.05" y1="314.60" x2="132.55" y2="314.60" stroke="#222" stroke-width="1.0"/>
<line x1="153.10" y1="295.60" x2="153.10" y2="301.80" stroke="#222" stroke-width="1.0"/>
<line x1="148.85" y1="295.60" x2="157.35" y2="295.60" stroke="#222" stroke-width="1.0"/>
<line x1="148.85" y1="301.80" x2="157.35" y2="301.80" stroke="#222" stroke-width="1.0"/>
<line x1="194.90" y1="380.80" x2="194.90" y2="381.60" stroke="#222" stroke-width="1.0"/>
<line x1="190.65" y1="380.80" x2="199.15" y2="380.80" stroke="#222" stroke-width="1.0"/>
<line x1="190.65" y1="381.60" x2="199.15" y2="381.60" stroke="#222" stroke-width="1.0"/>
<line x1="219.80" y1="339.90" x2="219.80" y2="346.10" stroke="#222" stroke-width="1.0"/>
<line x1="215.55" y1="339.90" x2="224.05" y2="339.90" stroke="#222" stroke-width="1.0"/>
<line x1="215.55" y1="346.10" x2="224.05" y2="346.10" stroke="#222" stroke-width="1.0"/>
<line x1="244.80" y1="263.70" x2="244.80" y2="277.80" stroke="#222" stroke-width="1.0"/>
<line x1="240.55" y1="263.70" x2="249.05" y2="263.70" stroke="#222" stroke-width="1.0"/>
<line x1="240.55" y1="277.80" x2="249.05" y2="277.80" stroke="#222" stroke-width="1.0"/>
<line x1="269.70" y1="357.30" x2="269.70" y2="366.30" stroke="#222" stroke-width="1.0"/>
<line x1="265.45" y1="357.30" x2="273.95" y2="357.30" stroke="#222" stroke-width="1.0"/>
<line x1="265.45" y1="366.30" x2="273.95" y2="366.30" stroke="#222" stroke-width="1.0"/>
<text x="75.60" y="398.60" font-size="10" text-anchor="middle" fill="#1a1a1a" >1</text>
<text x="100.50" y="398.60" font-size="10" text-anchor="middle" fill="#1a1a1a" >2</text>
<text x="125.30" y="398.60" font-size="10" text-anchor="middle" fill="#1a1a1a" >3</text>
<text x="150.10" y="398.60" font-size="10" text-anchor="middle" fill="#1a1a1a" >4</text>
<text x="191.90" y="398.60" font-size="10" text-anchor="middle" fill="#1a1a1a" >1</text>
<text x="216.80" y="398.60" font-size="10" text-anchor="middle" fill="#1a1a1a" >2</text>
<text x="241.80" y="398.60" font-size="10" text-anchor="middle" fill="#1a1a1a" >3</text>
<text x="266.70" y="398.60" font-size="10" text-anchor="middle" fill="#1a1a1a" >4</text>
<text x="155.20" y="415.80" font-size="9.9" text-anchor="middle" fill="#1a1a1a" >Number of subunits per Fragment</text>
<text transform="translate(24.1,303.9) rotate(-90)" font-size="9.6" text-anchor="middle" fill="#1a1a1a">PG-repeat unit (%)</text>
<rect x="78.3" y="238.8" width="16.2" height="7.6" fill="#d8d8d8" stroke="#333" stroke-width="1.1"/>
<rect x="78.3" y="255.6" width="16.2" height="7.6" fill="#5399f6" stroke="#1a1a1a" stroke-width="1.1"/>
<text x="103.90" y="246.20" font-size="10.4" text-anchor="start" fill="#1a1a1a" >D0</text>
<text x="103.90" y="263.00" font-size="10.4" text-anchor="start" fill="#1a1a1a" >D10</text>
<line x1="391.40" y1="246.10" x2="391.40" y2="385.00" stroke="#3a3a3a" stroke-width="1.1"/>
<line x1="387.70" y1="384.80" x2="391.40" y2="384.80" stroke="#3a3a3a" stroke-width="1.0"/>
<text x="379.40" y="388.40" font-size="10" text-anchor="end" fill="#1a1a1a" >0</text>
<line x1="387.70" y1="350.18" x2="391.40" y2="350.18" stroke="#3a3a3a" stroke-width="1.0"/>
<text x="379.40" y="353.78" font-size="10" text-anchor="end" fill="#1a1a1a" >1</text>
<line x1="387.70" y1="315.56" x2="391.40" y2="315.56" stroke="#3a3a3a" stroke-width="1.0"/>
<text x="379.40" y="319.16" font-size="10" text-anchor="end" fill="#1a1a1a" >2</text>
<line x1="387.70" y1="280.94" x2="391.40" y2="280.94" stroke="#3a3a3a" stroke-width="1.0"/>
<text x="379.40" y="284.54" font-size="10" text-anchor="end" fill="#1a1a1a" >3</text>
<line x1="387.70" y1="246.32" x2="391.40" y2="246.32" stroke="#3a3a3a" stroke-width="1.0"/>
<text x="379.40" y="249.92" font-size="10" text-anchor="end" fill="#1a1a1a" >4</text>
<line x1="386.70" y1="385.00" x2="493.30" y2="385.00" stroke="#3a3a3a" stroke-width="1.1"/>
<line x1="442.20" y1="385.00" x2="442.20" y2="389.30" stroke="#3a3a3a" stroke-width="1.0"/>
<rect x="399.9" y="268.3" width="34.0" height="116.70" fill="#d8d8d8" stroke="#787878" stroke-width="1.4"/>
<rect x="451.4" y="291.7" width="33.8" height="93.30" fill="#5399f6" stroke="#2a2e38" stroke-width="1.1"/>
<line x1="409.00" y1="267.80" x2="426.00" y2="267.80" stroke="#111" stroke-width="1.8"/>
<line x1="459.80" y1="291.30" x2="476.90" y2="291.30" stroke="#111" stroke-width="1.8"/>
<text x="412.80" y="400.70" font-size="10" text-anchor="middle" fill="#1a1a1a" >D0</text>
<text x="463.60" y="400.70" font-size="10" text-anchor="middle" fill="#1a1a1a" >D10</text>
<text transform="translate(363.9,317.1) rotate(-90)" font-size="10" text-anchor="middle" fill="#1a1a1a">Average muropeptide size</text>
<line x1="597.80" y1="244.10" x2="597.80" y2="384.60" stroke="#3a3a3a" stroke-width="1.1"/>
<line x1="593.60" y1="384.30" x2="597.80" y2="384.30" stroke="#3a3a3a" stroke-width="1.0"/>
<text x="585.20" y="387.90" font-size="10" text-anchor="end" fill="#1a1a1a" >60</text>
<line x1="593.60" y1="356.24" x2="597.80" y2="356.24" stroke="#3a3a3a" stroke-width="1.0"/>
<text x="585.20" y="359.84" font-size="10" text-anchor="end" fill="#1a1a1a" >62</text>
<line x1="593.60" y1="328.18" x2="597.80" y2="328.18" stroke="#3a3a3a" stroke-width="1.0"/>
<text x="585.20" y="331.78" font-size="10" text-anchor="end" fill="#1a1a1a" >64</text>
<line x1="593.60" y1="300.12" x2="597.80" y2="300.12" stroke="#3a3a3a" stroke-width="1.0"/>
<text x="585.20" y="303.72" font-size="10" text-anchor="end" fill="#1a1a1a" >66</text>
<line x1="593.60" y1="272.06" x2="597.80" y2="272.06" stroke="#3a3a3a" stroke-width="1.0"/>
<text x="585.20" y="275.66" font-size="10" text-anchor="end" fill="#1a1a1a" >68</text>
<line x1="593.60" y1="244.00" x2="597.80" y2="244.00" stroke="#3a3a3a" stroke-width="1.0"/>
<text x="585.20" y="247.60" font-size="10" text-anchor="end" fill="#1a1a1a" >70</text>
<line x1="594.00" y1="384.70" x2="698.30" y2="384.70" stroke="#3a3a3a" stroke-width="1.1"/>
<line x1="623.00" y1="384.70" x2="623.00" y2="388.60" stroke="#3a3a3a" stroke-width="1.0"/>
<line x1="673.50" y1="384.70" x2="673.50" y2="388.60" stroke="#3a3a3a" stroke-width="1.0"/>
<rect x="606.6" y="262.9" width="33.3" height="121.80" fill="#d8d8d8" stroke="#3a3a3a" stroke-width="1.05"/>
<rect x="656.6" y="346.1" width="33.7" height="38.60" fill="#5399f6" stroke="#1c2230" stroke-width="1.2"/>
<line x1="623.20" y1="259.60" x2="623.20" y2="266.10" stroke="#222" stroke-width="1.0"/>
<line x1="614.70" y1="259.60" x2="631.70" y2="259.60" stroke="#222" stroke-width="1.0"/>
<line x1="614.70" y1="266.10" x2="631.70" y2="266.10" stroke="#222" stroke-width="1.0"/>
<line x1="674.60" y1="342.00" x2="674.60" y2="350.20" stroke="#222" stroke-width="1.0"/>
<line x1="666.45" y1="342.00" x2="682.75" y2="342.00" stroke="#222" stroke-width="1.0"/>
<line x1="666.45" y1="350.20" x2="682.75" y2="350.20" stroke="#222" stroke-width="1.0"/>
<text x="621.00" y="398.90" font-size="10" text-anchor="middle" fill="#1a1a1a" >D0</text>
<text x="671.00" y="398.90" font-size="10" text-anchor="middle" fill="#1a1a1a" >D10</text>
<text transform="translate(561.3,316.05) rotate(-90)" font-size="9.9" text-anchor="middle" fill="#1a1a1a">Cross-linking Efficiency (%)</text>
</svg>
</body></html>
